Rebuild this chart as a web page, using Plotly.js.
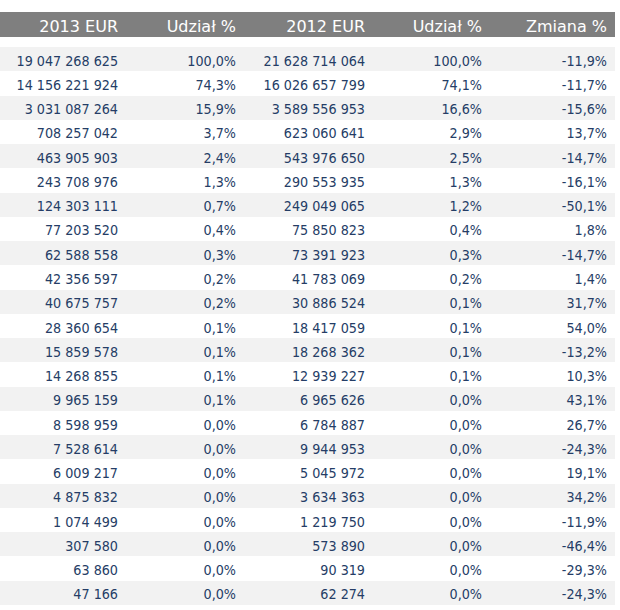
<!DOCTYPE html>
<html>
<head>
<meta charset="utf-8">
<script src="https://cdn.plot.ly/plotly-3.0.1.min.js"></script>
<style>html,body{margin:0;padding:0;background:#fff;}#chart{width:620px;height:610px;}</style>
</head>
<body>
<div id="chart"></div>
<script>
const headers = ["2013 EUR", "Udział %", "2012 EUR", "Udział %", "Zmiana %"];
const eur2013 = [19047268625, 14156221924, 3031087264, 708257042, 463905903, 243708976, 124303111, 77203520, 62588558, 42356597, 40675757, 28360654, 15859578, 14268855, 9965159, 8598959, 7528614, 6009217, 4875832, 1074499, 307580, 63860, 47166];
const share2013 = [100.0, 74.3, 15.9, 3.7, 2.4, 1.3, 0.7, 0.4, 0.3, 0.2, 0.2, 0.1, 0.1, 0.1, 0.1, 0.0, 0.0, 0.0, 0.0, 0.0, 0.0, 0.0, 0.0];
const eur2012 = [21628714064, 16026657799, 3589556953, 623060641, 543976650, 290553935, 249049065, 75850823, 73391923, 41783069, 30886524, 18417059, 18268362, 12939227, 6965626, 6784887, 9944953, 5045972, 3634363, 1219750, 573890, 90319, 62274];
const share2012 = [100.0, 74.1, 16.6, 2.9, 2.5, 1.3, 1.2, 0.4, 0.3, 0.2, 0.1, 0.1, 0.1, 0.1, 0.0, 0.0, 0.0, 0.0, 0.0, 0.0, 0.0, 0.0, 0.0];
const change = [-11.9, -11.7, -15.6, 13.7, -14.7, -16.1, -50.1, 1.8, -14.7, 1.4, 31.7, 54.0, -13.2, 10.3, 43.1, 26.7, -24.3, 19.1, 34.2, -11.9, -46.4, -29.3, -24.3];

function fmtInt(v) { return String(v).replace(/\B(?=(\d{3})+(?!\d))/g, " "); }
function fmtPct(v) { return v.toFixed(1).replace(".", ",") + "%"; }

const H = 610, W = 620;
const colW = [126, 118, 129, 117, 125];
const xDom = [0, 615 / W];
const rowFill = eur2013.map((_, i) => i % 2 === 0 ? "#f2f2f2" : "#ffffff");
const textCol = "#253d66";
const bodyFam = "DejaVu Sans Condensed, DejaVu Sans, sans-serif";
const headFam = "DejaVu Sans, Verdana, sans-serif";

const headerTrace = {
  type: "table",
  domain: { x: xDom, y: [(H - 37) / H, (H - 12) / H] },
  columnwidth: colW,
  header: {
    values: headers,
    align: "right",
    height: 25,
    fill: { color: "#7f7f7f" },
    line: { width: 0, color: "rgba(0,0,0,0)" },
    font: { family: headFam, size: 16, color: "#ffffff" }
  },
  cells: { values: headers.map(() => []), line: { width: 0, color: "rgba(0,0,0,0)" } }
};

const bodyTrace = {
  type: "table",
  domain: { x: xDom, y: [0, (H - 37) / H] },
  columnwidth: colW,
  header: {
    values: headers.map(() => ""),
    height: 10,
    fill: { color: "#ffffff" },
    line: { width: 0, color: "rgba(0,0,0,0)" },
    font: { size: 1, color: "#ffffff" }
  },
  cells: {
    values: [eur2013.map(fmtInt), share2013.map(fmtPct), eur2012.map(fmtInt), share2012.map(fmtPct), change.map(fmtPct)],
    align: "right",
    height: 24.26,
    fill: { color: [rowFill, rowFill, rowFill, rowFill, rowFill] },
    line: { width: 0, color: "rgba(0,0,0,0)" },
    font: { family: bodyFam, size: 14.2, color: textCol }
  }
};

Plotly.newPlot("chart", [headerTrace, bodyTrace], {
  width: W, height: H,
  margin: { l: 0, r: 0, t: 0, b: 0 },
  paper_bgcolor: "#ffffff",
  showlegend: false
}, { displayModeBar: false, staticPlot: true });
</script>
</body>
</html>
